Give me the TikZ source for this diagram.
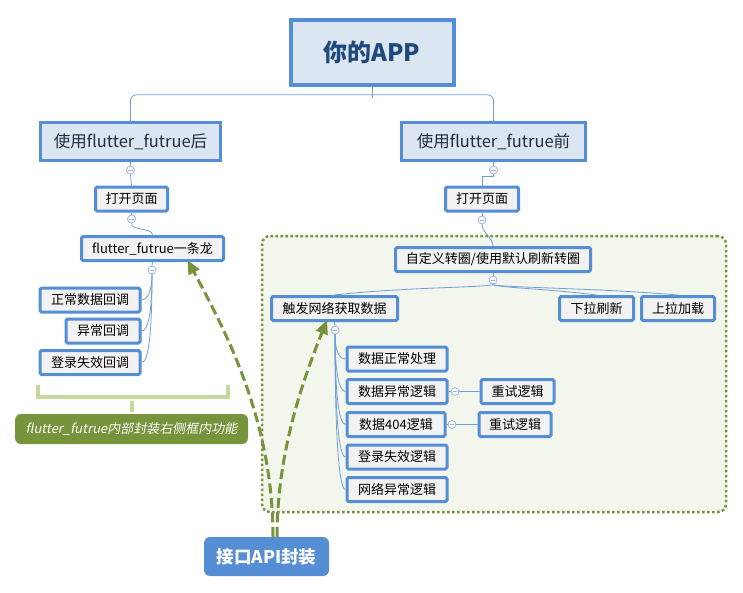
\documentclass[tikz,border=0pt]{standalone}
\usepackage{fontspec}
\setmainfont{Noto Sans CJK SC}
\newfontfamily\slantcjk[FakeSlant=0.2]{Noto Sans CJK SC}
\usetikzlibrary{arrows.meta}
\usetikzlibrary{positioning}
\definecolor{boxblue}{RGB}{85,142,213}
\definecolor{topicfill}{RGB}{220,230,242}
\definecolor{leaffill}{RGB}{242,242,242}
\definecolor{linkblue}{RGB}{112,158,218}
\definecolor{foldblue}{RGB}{150,180,230}
\definecolor{olive}{RGB}{119,147,60}
\definecolor{zonefill}{RGB}{243,246,236}
\definecolor{bracketgreen}{RGB}{196,215,157}
\definecolor{roottext}{RGB}{31,73,125}
\definecolor{topictext}{RGB}{35,45,65}

\begin{document}
\begin{tikzpicture}
		[x=1pt,y=-1pt,
		 rootbox/.style={rectangle,draw=boxblue,line width=4pt,fill=topicfill,text=roottext,
			font=\bfseries\fontsize{24}{28}\selectfont,minimum width=163,minimum height=65},
		 topic/.style={rectangle,draw=boxblue,line width=2.5pt,fill=topicfill,text=topictext,
			font=\fontsize{16.5}{20}\selectfont,minimum height=38,inner xsep=0pt},
		 leaf/.style={rectangle,draw=boxblue,line width=3pt,fill=leaffill,rounded corners=1.5pt,
			font=\fontsize{13}{16}\selectfont,minimum height=24,inner xsep=0pt},
		 fold/.style={circle,draw=foldblue,fill=white,line width=0.8pt,minimum size=8,inner sep=0pt,
			path picture={\draw[foldblue,line width=0.7pt]
				([xshift=-2.2pt]path picture bounding box.center) -- ([xshift=2.2pt]path picture bounding box.center);}},
		 link/.style={draw=linkblue,line width=0.8pt},
		 zone/.style={rectangle,draw=olive,line width=2.5pt,dash pattern=on 2.6pt off 2.4pt,
			fill=zonefill,rounded corners=8pt},
		 note/.style={rectangle,fill=olive,rounded corners=6pt,text=white,
			font=\slantcjk\fontsize{13}{16}\selectfont,minimum width=233,minimum height=30},
		 apibox/.style={rectangle,fill=boxblue,rounded corners=6pt,text=white,
			font=\bfseries\fontsize{17.5}{20}\selectfont,minimum width=125,minimum height=39},
		 bracket/.style={draw=bracketgreen,line width=4pt},
		 calls/.style={draw=olive,line width=3pt,dash pattern=on 10pt off 4.5pt,
			-{Triangle[length=14pt,width=12pt]}}]

		\useasboundingbox (0,0) rectangle (743,592);

		% region handled by flutter_futrue
		\node[zone,minimum width=464,minimum height=276] (zone) at (494,374) {};

		\node[rootbox] (app) at (372,52) {你的APP};

		\node[topic,minimum width=180] (after) at (130.5,141.5) {使用flutter\_futrue后};
		\node[topic,minimum width=184] (before) at (493.5,141.5) {使用flutter\_futrue前};
		\draw[link] (app.south) -- ++(0,11.5);
		\draw[link,rounded corners=6pt] (after.north) -- ++(0,-26.5) -| (before.north);

		% after
		\node[leaf,minimum width=72] (openL) at (131.5,199) {打开页面};
		\node[leaf,minimum width=142] (dragon) at (152.5,248.5) {flutter\_futrue一条龙};
		\node[leaf,minimum width=100,anchor=east] (okcb) at (141.5,300) {正常数据回调};
		\node[leaf,minimum width=74,anchor=east] (errcb) at (141.5,331) {异常回调};
		\node[leaf,minimum width=100,anchor=east] (logincb) at (141.5,362.5) {登录失效回调};

		\node[fold] (f1) at (130.5,170) {};
		\node[fold] (f3) at (131.5,219) {};
		\node[fold] (f4) at (152,270) {};
		\draw[link] (after.south) -- (f1.north) (f1.south) -- (openL.north);
		\draw[link] (openL.south) -- (f3.north);
		\draw[link] (f3.south) .. controls +(0,8) and +(0,-8) .. (dragon.north);
		\draw[link] (dragon.south) -- (f4.north);
		\draw[link] (f4.south) .. controls +(0,14) and +(7,0) .. (okcb.east);
		\draw[link] (f4.south) .. controls +(0,36) and +(7,0) .. (errcb.east);
		\draw[link] (f4.south) .. controls +(0,60) and +(7,0) .. (logincb.east);

		\draw[bracket] (38,385) -- (38,397) -- (228,397) -- (228,385);
		\node[note] (note) at (131.5,429) {flutter\_futrue内部封装右侧框内功能};
		\draw[bracket] (note.north) ++(0,-2) -- ++(0,-11);

		% before
		\node[leaf,minimum width=73] (openR) at (482,199) {打开页面};
		\node[leaf,minimum width=195] (spin) at (493,259.5) {自定义转圈/使用默认刷新转圈};
		\node[leaf,minimum width=126] (fetch) at (334.5,308.5) {触发网络获取数据};
		\node[leaf,minimum width=74] (pull) at (596.5,308.5) {下拉刷新};
		\node[leaf,minimum width=73] (load) at (678,308.5) {上拉加载};

		\node[leaf,minimum width=100,anchor=west] (okdata) at (345.5,359) {数据正常处理};
		\node[leaf,minimum width=100,anchor=west] (errdata) at (345.5,391.5) {数据异常逻辑};
		\node[leaf,minimum width=98,anchor=west] (nfdata) at (345.5,424.5) {数据404逻辑};
		\node[leaf,minimum width=100,anchor=west] (logindata) at (345.5,457) {登录失效逻辑};
		\node[leaf,minimum width=100,anchor=west] (netdata) at (345.5,489.5) {网络异常逻辑};
		\node[leaf,minimum width=73,anchor=west] (retryA) at (479.5,391.5) {重试逻辑};
		\node[leaf,minimum width=72,anchor=west] (retryB) at (477.5,424.5) {重试逻辑};

		\node[fold] (f2) at (493.5,170) {};
		\node[fold] (f5) at (482,220) {};
		\node[fold] (f6) at (493,280) {};
		\node[fold] (f7) at (335,330) {};
		\node[fold] (f8) at (455,391.5) {};
		\node[fold] (f9) at (452,424.5) {};
		\draw[link] (before.south) -- (f2.north) (f2.south) -- ++(0,2) -| (openR.north);
		\draw[link] (openR.south) -- (f5.north);
		\draw[link] (f5.south) .. controls +(0,8) and +(0,-8) .. (spin.north);
		\draw[link] (spin.south) -- (f6.north);
		\draw[link] (f6.south) .. controls +(0,3) and +(70,-8) .. (fetch.north);
		\draw[link] (f6.south) .. controls +(0,3) and +(-45,-6) .. (pull.north);
		\draw[link] (f6.south) .. controls +(0,3) and +(-80,-7) .. (load.north);
		\draw[link] (fetch.south) -- (f7.north);
		\draw[link] (f7.south) .. controls +(0,15) and +(-7,0) .. (okdata.west);
		\draw[link] (f7.south) .. controls +(0,35) and +(-7,0) .. (errdata.west);
		\draw[link] (f7.south) .. controls +(0,55) and +(-7,0) .. (nfdata.west);
		\draw[link] (f7.south) .. controls +(0,75) and +(-7,0) .. (logindata.west);
		\draw[link] (f7.south) .. controls +(0,95) and +(-7,0) .. (netdata.west);
		\draw[link] (errdata.east) -- (f8.west) (f8.east) -- (retryA.west);
		\draw[link] (nfdata.east) -- (f9.west) (f9.east) -- (retryB.west);

		% API layer
		\node[apibox] (api) at (266.5,556.5) {接口API封装};
		\draw[calls] ([xshift=6.5pt]api.north) .. controls +(0,-117) and (225,330) .. ([xshift=35pt,yshift=2pt]dragon.south);
		\draw[calls] ([xshift=10.5pt]api.north) .. controls +(0,-87) and (305,375) .. ([xshift=-7.5pt,yshift=2pt]fetch.south);
	\end{tikzpicture}
\end{document}
